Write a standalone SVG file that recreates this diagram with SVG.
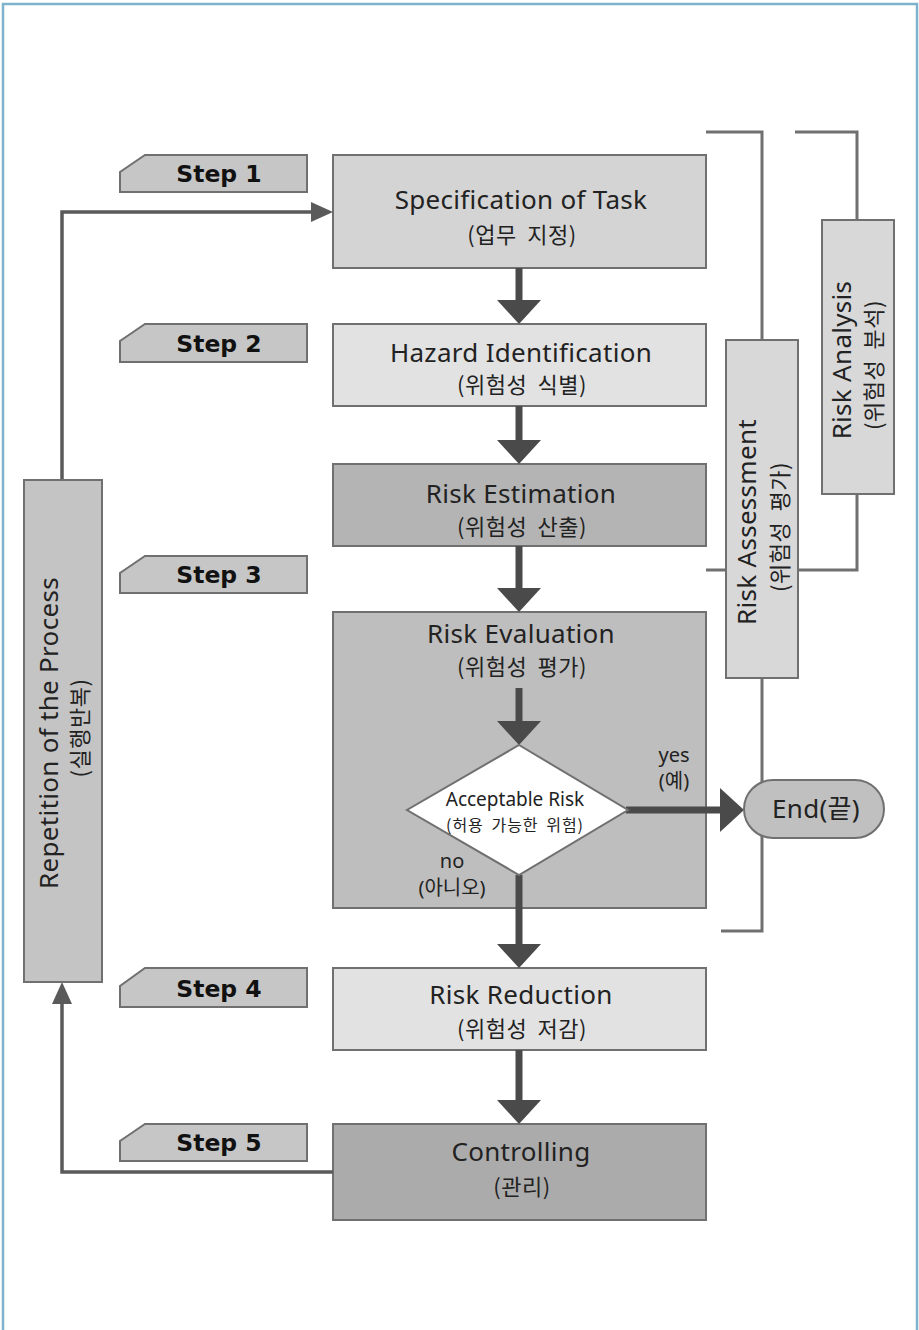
<svg xmlns="http://www.w3.org/2000/svg" width="919" height="1330" viewBox="0 0 919 1330">
<defs>
<style>
.box{stroke:#707070;stroke-width:2}
.tab{fill:#c6c6c6;stroke:#707070;stroke-width:2}
.step{font-family:"DejaVu Sans",sans-serif;font-weight:bold;font-size:23.5px;fill:#111;text-anchor:middle}
.t{font-family:"Noto Sans","Noto Sans CJK KR",sans-serif;font-size:26px;letter-spacing:0.3px;fill:#222;text-anchor:middle}
.k{font-family:"Noto Sans CJK KR","Noto Sans",sans-serif;font-size:22px;letter-spacing:0.5px;word-spacing:5px;fill:#222;text-anchor:middle}
.s{font-family:"Noto Sans","Noto Sans CJK KR",sans-serif;font-size:19px;fill:#222;text-anchor:middle}
.yn{font-family:"Noto Sans","Noto Sans CJK KR",sans-serif;font-size:20px;fill:#222;text-anchor:middle}
.ks{font-family:"Noto Sans CJK KR","Noto Sans",sans-serif;font-size:16px;letter-spacing:1px;word-spacing:3px;fill:#222;text-anchor:middle}
.big{stroke:#4a4a4a;stroke-width:7;fill:none}
.thin{stroke:#5a5a5a;stroke-width:3.5;fill:none}
.br{stroke:#707070;stroke-width:3;fill:none}
</style>
<marker id="ah" viewBox="0 0 24 44" markerUnits="userSpaceOnUse" markerWidth="24" markerHeight="44" refX="12" refY="22" orient="auto"><path d="M0,0 L24,22 L0,44 z" fill="#4a4a4a"/></marker>
<marker id="as" viewBox="0 0 22 20" markerUnits="userSpaceOnUse" markerWidth="22" markerHeight="20" refX="10" refY="10" orient="auto"><path d="M0,0 L22,10 L0,20 z" fill="#5a5a5a"/></marker>
</defs>
<rect width="919" height="1330" fill="#fff"/>
<path d="M3,1330 V4 H917 V1330" fill="none" stroke="#7fb2cc" stroke-width="2.5"/>

<g id="brackets">
<path class="br" d="M795,132 H857 V220 M857,494 V570 H706"/>
<path class="br" d="M706,132 H762 V340 M762,678 V931 H721"/>
</g>

<g id="step1"><path class="tab" d="M145,155 H307 V192 H120 V172 z"/><text class="step" x="219" y="182">Step 1</text></g>
<g id="step2"><path class="tab" d="M145,324 H307 V362 H120 V341 z"/><text class="step" x="219" y="352">Step 2</text></g>
<g id="step3"><path class="tab" d="M145,556 H307 V593 H120 V573 z"/><text class="step" x="219" y="583">Step 3</text></g>
<g id="step4"><path class="tab" d="M145,968 H307 V1007 H120 V986 z"/><text class="step" x="219" y="997">Step 4</text></g>
<g id="step5"><path class="tab" d="M145,1124 H307 V1161 H120 V1141 z"/><text class="step" x="219" y="1151">Step 5</text></g>

<g id="spec"><rect class="box" x="333" y="155" width="373" height="113" fill="#d4d4d4"/><text class="t" x="521" y="209">Specification of Task</text><text class="k" x="522" y="243">(업무 지정)</text></g>
<g id="hazard"><rect class="box" x="333" y="324" width="373" height="82" fill="#e2e2e2"/><text class="t" x="521" y="362">Hazard Identification</text><text class="k" x="522" y="393">(위험성 식별)</text></g>
<g id="estimation"><rect class="box" x="333" y="464" width="373" height="82" fill="#b4b4b4"/><text class="t" x="521" y="503">Risk Estimation</text><text class="k" x="522" y="535">(위험성 산출)</text></g>
<g id="evaluation"><rect class="box" x="333" y="612" width="373" height="296" fill="#bebebe"/><text class="t" x="521" y="643">Risk Evaluation</text><text class="k" x="522" y="675">(위험성 평가)</text></g>
<g id="reduction"><rect class="box" x="333" y="968" width="373" height="82" fill="#e2e2e2"/><text class="t" x="521" y="1004">Risk Reduction</text><text class="k" x="522" y="1037">(위험성 저감)</text></g>
<g id="controlling"><rect class="box" x="333" y="1124" width="373" height="96" fill="#ababab"/><text class="t" x="521" y="1161">Controlling</text><text class="k" x="522" y="1195">(관리)</text></g>

<g id="connectors">
<line class="big" x1="519" y1="268" x2="519" y2="312" marker-end="url(#ah)"/>
<line class="big" x1="519" y1="406" x2="519" y2="452" marker-end="url(#ah)"/>
<line class="big" x1="519" y1="546" x2="519" y2="600" marker-end="url(#ah)"/>
<line class="big" x1="519" y1="688" x2="519" y2="733" marker-end="url(#ah)"/>
<line class="big" x1="626" y1="810" x2="732" y2="810" marker-end="url(#ah)"/>
<line class="big" x1="519" y1="875" x2="519" y2="956" marker-end="url(#ah)"/>
<line class="big" x1="519" y1="1050" x2="519" y2="1112" marker-end="url(#ah)"/>
<path class="thin" d="M333,1172 H62 V994" marker-end="url(#as)"/>
<path class="thin" d="M62,480 V212 H321" marker-end="url(#as)"/>
</g>

<g id="decision"><path d="M519,745 L628,810 L519,875 L407,810 z" fill="#fff" stroke="#707070" stroke-width="2"/><text class="s" x="515" y="806">Acceptable Risk</text><text class="ks" x="515" y="831">(허용 가능한 위험)</text></g>
<g id="yes-label"><text class="yn" x="674" y="762">yes</text><text class="yn" x="674" y="788">(예)</text></g>
<g id="no-label"><text class="yn" x="452" y="868">no</text><text class="yn" x="452" y="895">(아니오)</text></g>

<g id="end"><rect class="box" x="744" y="780" width="140" height="58" rx="29" fill="#c0c0c0"/><text class="t" x="816" y="818">End(끝)</text></g>

<g id="repetition"><rect class="box" x="24" y="480" width="78" height="502" fill="#c4c4c4"/><g transform="translate(58,733) rotate(-90)"><text class="t" x="0" y="0">Repetition of the Process</text><text class="k" x="5" y="30">(실행반복)</text></g></g>
<g id="assessment"><rect class="box" x="726" y="340" width="72" height="338" fill="#d8d8d8"/><g transform="translate(756,522) rotate(-90)"><text class="t" x="0" y="0">Risk Assessment</text><text class="k" x="-5" y="32">(위험성 평가)</text></g></g>
<g id="analysis"><rect class="box" x="822" y="220" width="72" height="274" fill="#d8d8d8"/><g transform="translate(851,360) rotate(-90)"><text class="t" x="0" y="0">Risk Analysis</text><text class="k" x="-5" y="31">(위험성 분석)</text></g></g>
</svg>
